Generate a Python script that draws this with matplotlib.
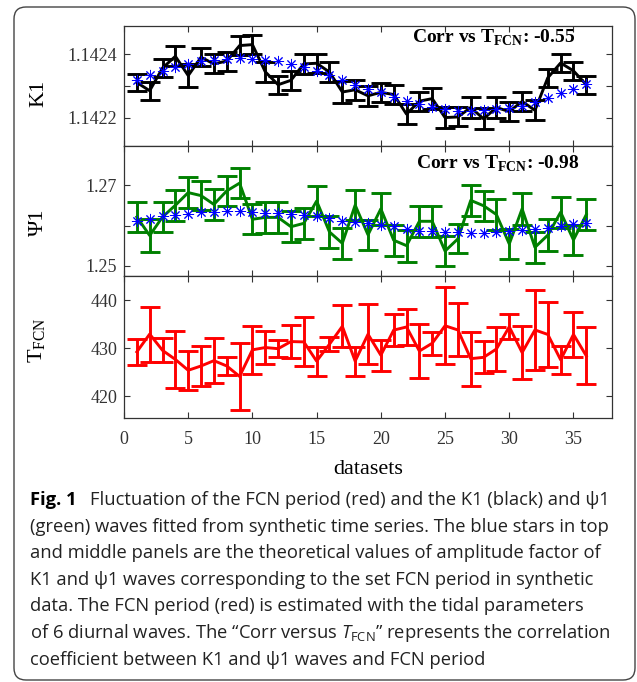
import matplotlib
matplotlib.use('Agg')
import matplotlib.pyplot as plt
from matplotlib.patches import FancyBboxPatch

plt.rcParams['font.family'] = 'Liberation Serif'
plt.rcParams['mathtext.fontset'] = 'custom'
plt.rcParams['mathtext.rm'] = 'Liberation Serif'
plt.rcParams['mathtext.bf'] = 'Liberation Serif:bold'
plt.rcParams['mathtext.sf'] = 'Open Sans'
plt.rcParams['mathtext.cal'] = 'Open Sans:italic'

datasets = list(range(1, 37))

k1 = [1.142311, 1.142285, 1.142357, 1.142394, 1.142333, 1.142391, 1.142370, 1.142379, 1.142428,
      1.142431, 1.142345, 1.142304, 1.142318, 1.142370, 1.142372, 1.142344, 1.142281, 1.142288,
      1.142269, 1.142280, 1.142273, 1.142211, 1.142252, 1.142260, 1.142200, 1.142202, 1.142232,
      1.142196, 1.142232, 1.142219, 1.142251, 1.142223, 1.142326, 1.142373, 1.142348, 1.142304]
k1_err = [2.8, 2.9, 2.9, 3.2, 3.7, 2.9, 3.0, 3.0, 3.1, 2.9, 3.1, 2.9, 3.1, 3.2, 3.0, 3.2, 3.4, 3.1,
          3.2, 3.0, 3.0, 3.2, 3.0, 3.3, 3.2, 3.0, 3.2, 3.3, 3.2, 2.9, 3.1, 3.2, 2.8, 2.9, 2.9, 2.9]
k1_theory = [1.142320, 1.142335, 1.142347, 1.142360, 1.142370, 1.142379, 1.142383, 1.142386, 1.142389,
             1.142386, 1.142383, 1.142378, 1.142370, 1.142360, 1.142347, 1.142335, 1.142320, 1.142303,
             1.142290, 1.142280, 1.142266, 1.142253, 1.142243, 1.142232, 1.142227, 1.142221, 1.142221,
             1.142223, 1.142227, 1.142230, 1.142237, 1.142248, 1.142262, 1.142277, 1.142290, 1.142306]

psi1 = [1.26213, 1.25753, 1.26213, 1.26502, 1.26816, 1.26741, 1.26523, 1.26858, 1.27050,
        1.26155, 1.26201, 1.26201, 1.25971, 1.26054, 1.26607, 1.25841, 1.25560, 1.26506,
        1.25770, 1.26414, 1.25636, 1.25502, 1.26105, 1.26105, 1.25368, 1.25670, 1.26623,
        1.26490, 1.26272, 1.25544, 1.26414, 1.25460, 1.25762, 1.26330, 1.25644, 1.26272]
psi1_err = [0.00377, 0.00397, 0.00377, 0.00381, 0.00377, 0.00368, 0.00377, 0.00377, 0.00377,
            0.00368, 0.00389, 0.00389, 0.00385, 0.00385, 0.00377, 0.00389, 0.00377, 0.00381,
            0.00377, 0.00389, 0.00385, 0.00397, 0.00377, 0.00377, 0.00364, 0.00356, 0.00377,
            0.00368, 0.00377, 0.00377, 0.00389, 0.00377, 0.00389, 0.00389, 0.00377, 0.00377]
psi1_theory = [1.26121, 1.26172, 1.26230, 1.26255, 1.26297, 1.26330, 1.26330, 1.26356, 1.26356,
               1.26330, 1.26314, 1.26314, 1.26289, 1.26255, 1.26230, 1.26188, 1.26121, 1.26080,
               1.26063, 1.26004, 1.25980, 1.25912, 1.25870, 1.25854, 1.25837, 1.25828, 1.25812,
               1.25812, 1.25828, 1.25854, 1.25879, 1.25920, 1.25950, 1.25996, 1.26038, 1.26063]

tfcn = [429.24, 432.93, 429.55, 427.66, 425.41, 426.31, 427.41, 426.31, 424.14,
        429.66, 430.14, 429.90, 431.38, 431.31, 427.31, 430.83, 434.55, 427.31,
        432.90, 428.55, 433.76, 434.41, 429.41, 431.03, 434.66, 433.79, 427.83,
        428.10, 429.83, 434.45, 429.10, 433.79, 432.86, 427.59, 432.86, 428.41]
tfcn_err = [2.7, 5.7, 2.5, 5.9, 4.0, 4.2, 4.7, 1.8, 6.9, 5.0, 3.4, 1.8, 3.4, 5.1, 3.0, 1.4, 4.4, 3.0,
            6.2, 3.2, 3.3, 3.7, 5.6, 2.4, 8.0, 5.5, 5.6, 3.3, 4.5, 2.6, 5.5, 8.3, 6.7, 2.9, 4.6, 5.9]

caption = [
    'Fluctuation of the FCN period (red) and the K1 (black) and \u03c81',
    '(green) waves fitted from synthetic time series. The blue stars in top',
    'and middle panels are the theoretical values of amplitude factor of',
    'K1 and \u03c81 waves corresponding to the set FCN period in synthetic',
    'data. The FCN period (red) is estimated with the tidal parameters',
    'of 6 diurnal waves. The \u201cCorr versus $\\mathcal{T}_{\\mathsf{FCN}}$\u201d represents the correlation',
    'coefficient between K1 and \u03c81 waves and FCN period',
]

W, H = 637, 682
fig = plt.figure(figsize=(W / 100, H / 100), dpi=100)

bg = fig.add_axes([0, 0, 1, 1])
bg.set_xlim(0, W)
bg.set_ylim(H, 0)
bg.axis('off')
bg.add_patch(FancyBboxPatch((14, 7), 621, 673, boxstyle='round,pad=0,rounding_size=12',
                            fill=False, ec='#444444', lw=1.0))

left = 124 / W
width = 488 / W
ax1 = fig.add_axes([left, 1 - 146 / H, width, 120 / H])
ax2 = fig.add_axes([left, 1 - 276 / H, width, 130 / H])
ax3 = fig.add_axes([left, 1 - 418 / H, width, 142 / H])

ekw = dict(lw=2.1, capsize=7, capthick=2.1, elinewidth=2.1)
star = dict(ls='none', marker=(8, 2, 0), ms=8, mew=0.7, color='#0000ff', zorder=5)

ax1.errorbar(datasets, k1, yerr=[e * 1e-5 for e in k1_err], color='black', **ekw)
ax1.plot(datasets, k1_theory, **star)
ax1.set_ylim(1.14211, 1.14249)
ax1.set_yticks([1.1422, 1.1423, 1.1424])
ax1.set_yticklabels(['1.1422', '', '1.1424'])
ax1.set_ylabel('K1', fontsize=16)
ax1.yaxis.set_label_coords(-0.155, 0.44)
ax1.text(0.59, 0.90, 'Corr vs T$_{\\mathbf{FCN}}$: -0.55', transform=ax1.transAxes,
         fontsize=14, fontweight='bold', va='center', ha='left')

ax2.errorbar(datasets, psi1, yerr=psi1_err, color='#008000', **ekw)
ax2.plot(datasets, psi1_theory, **star)
ax2.set_ylim(1.2475, 1.2797)
ax2.set_yticks([1.25, 1.26, 1.27])
ax2.set_yticklabels(['1.25', '', '1.27'])
ax2.set_ylabel('\u03a81', fontsize=16)
ax2.yaxis.set_label_coords(-0.155, 0.415)
ax2.text(0.598, 0.86, 'Corr vs T$_{\\mathbf{FCN}}$: -0.98', transform=ax2.transAxes,
         fontsize=14, fontweight='bold', va='center', ha='left')

ax3.errorbar(datasets, tfcn, yerr=tfcn_err, color='#ff0000', **ekw)
ax3.set_ylim(415.5, 445)
ax3.set_yticks([420, 430, 440])
ax3.set_ylabel('T$_{\\mathrm{FCN}}$', fontsize=16)
ax3.yaxis.set_label_coords(-0.155, 0.55)
ax3.set_xlabel('datasets', fontsize=16, labelpad=9)

for ax in (ax1, ax2, ax3):
    ax.set_xlim(0, 38)
    ax.set_xticks(range(0, 36, 5))
    ax.tick_params(direction='in', top=True, right=True, length=4, width=0.8,
                   labelsize=13, colors='#333333', labelcolor='#333333', pad=5)
    for s in ax.spines.values():
        s.set_color('#333333')
        s.set_linewidth(0.9)
    ax.tick_params(axis='x', pad=9)
ax1.tick_params(labelbottom=False)
ax2.tick_params(labelbottom=False)

cap_x = 30
cap_y = [500, 526.6, 553.2, 579.8, 606.4, 633, 659.6]
cap_size = 13.2
bg.text(cap_x, cap_y[0], 'Fig. 1', family='Open Sans', fontweight='bold', fontsize=cap_size,
        va='center', ha='left')
for i, line in enumerate(caption):
    x = 90 if i == 0 else cap_x
    bg.text(x, cap_y[i], line, family='Open Sans', fontsize=cap_size, va='center', ha='left',
            color='#222222')

fig.savefig('out.png', dpi=100)
